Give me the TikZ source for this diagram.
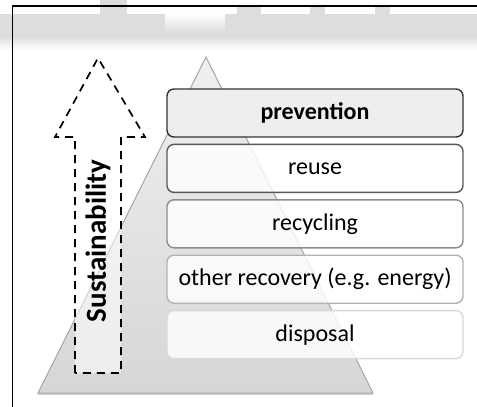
\documentclass[tikz,border=0pt]{standalone}
\usepackage{fontspec}
\setmainfont{Carlito}
\usetikzlibrary{positioning,shadows}
\definecolor{PyrTop}{RGB}{240,240,240}
\definecolor{PyrBottom}{RGB}{214,214,214}
\definecolor{PyrEdge}{RGB}{165,165,165}
\definecolor{BlurGray}{RGB}{221,221,221}
\definecolor{TopFill}{RGB}{238,238,238}
\tikzset{
  level/.style={draw,rounded corners=7pt,line width=1.4pt,fill=white,fill opacity=0.82,text opacity=1,minimum width=296pt,minimum height=48pt,font=\fontsize{24}{28}\selectfont,inner sep=0pt},
  toplevel/.style={level,draw=black!80,fill=TopFill,fill opacity=1,font=\fontsize{24}{28}\selectfont\bfseries},
  dasharrow/.style={draw=black,line width=1.7pt,dash pattern=on 8pt off 6pt,fill=white,fill opacity=0.55},
  blur/.style={fill=BlurGray,draw=none}
}
\begin{document}
\begin{tikzpicture}[x=1pt,y=-1pt,node distance=6pt]
\useasboundingbox (0,0) rectangle (477,407);
% blurred band at the top
\fill[blur] (0,14) rectangle (477,36);
\shade[top color=BlurGray,bottom color=white,draw=none] (0,36) rectangle (477,50);
\shade[top color=white,bottom color=BlurGray,draw=none] (165,14) rectangle (225,32);
\fill[blur] (100,0) rectangle (127,14);
\fill[blur] (237,6) rectangle (261,14);
\fill[blur] (310,6) rectangle (325,14);
\fill[blur] (375,6) rectangle (390,14);
% frame
\draw[line width=1.8pt] (12.5,407) -- (12.5,6) -- (477,6);
% pyramid
\shade[top color=PyrTop,bottom color=PyrBottom,draw=PyrEdge,line width=1pt,
  drop shadow={shadow xshift=0pt,shadow yshift=-2pt,opacity=.35}]
  (206,57) -- (373,393) -- (38,393) -- cycle;
% arrow
\draw[dasharrow] (75,373) -- (75,137) -- (55,137) -- (98,58) -- (145,137) -- (121,137) -- (121,373) -- cycle;
\node[rotate=90,font=\fontsize{29}{32}\selectfont\bfseries] (sust) at (98,241) {Sustainability};
% levels
\node[toplevel] (prev) at (315,113) {prevention};
\node[level,draw=black!65,below=of prev] (reuse) {reuse};
\node[level,draw=black!45,below=of reuse] (recyc) {recycling};
\node[level,draw=black!30,below=of recyc] (recov) {other recovery (e.g. energy)};
\node[level,draw=black!15,below=of recov] (disp) {disposal};
\end{tikzpicture}
\end{document}
